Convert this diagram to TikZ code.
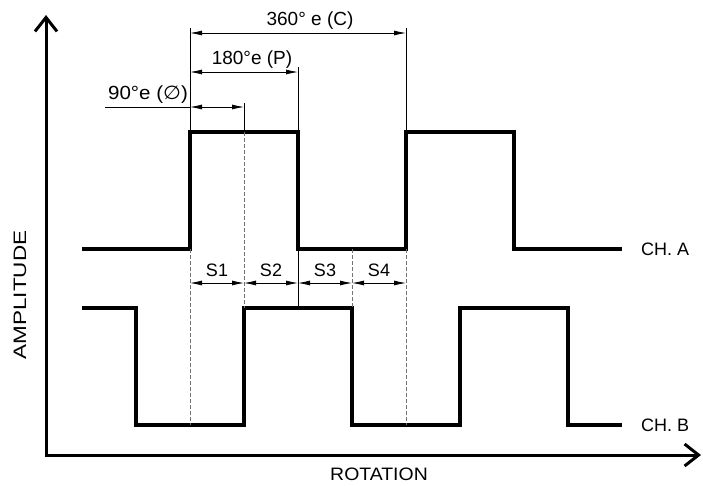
\documentclass[tikz,border=0pt]{standalone}
\usepackage{fontspec}
\setmainfont{Liberation Sans}
\newfontfamily\symfont{DejaVu Sans}
\usetikzlibrary{arrows.meta}
\begin{document}
\begin{tikzpicture}[x=1pt,y=-1pt,
  wave/.style={line width=4pt, line join=miter},
  axisline/.style={line width=3pt, line join=miter,
    {Straight Barb[length=14pt,width=22pt,line width=3pt]}-{Straight Barb[length=14pt,width=22pt,line width=3pt]}},
  dimline/.style={line width=0.8pt, {Latex[length=12pt,width=5pt]}-{Latex[length=12pt,width=5pt]}},
  extline/.style={line width=0.6pt},
  hidline/.style={line width=0.6pt, black!55, dash pattern=on 4pt off 2pt},
  lab/.style={font=\fontsize{19}{22}\selectfont, inner sep=0pt},
  slab/.style={font=\fontsize{18}{21}\selectfont, inner sep=0pt}]
\useasboundingbox (0,0) rectangle (703,485);
% axes
\coordinate (ytop) at (46,15);
\coordinate (orig) at (46,455);
\coordinate (xend) at (701,455);
\draw[axisline] (ytop) -- (orig) -- (xend);
% channel A
\draw[wave] (82,249) -- (190,249) -- (190,132) -- (298,132) -- (298,249) -- (406,249)
  -- (406,132) -- (514,132) -- (514,249) -- (622,249);
% channel B
\draw[wave] (82,308) -- (136,308) -- (136,425) -- (244,425) -- (244,308) -- (352,308)
  -- (352,425) -- (460,425) -- (460,308) -- (568,308) -- (568,425) -- (622,425);
% extension lines
\coordinate (e0t) at (190,28);  \coordinate (e0h) at (190,132);
\coordinate (e1t) at (244,103); \coordinate (e1h) at (244,132);
\coordinate (e2t) at (298,67);  \coordinate (e2h) at (298,132);
\coordinate (e4t) at (406,28);  \coordinate (e4h) at (406,132);
\draw[extline] (e0t) -- (e0h);
\draw[extline] (e1t) -- (e1h);
\draw[extline] (e2t) -- (e2h);
\draw[extline] (e4t) -- (e4h);
\draw[hidline] (190,249) -- (190,425);
\draw[hidline] (244,132) -- (244,308);
\draw[extline] (298,249) -- (298,308);
\draw[hidline] (352,249) -- (352,308);
\draw[hidline] (406,249) -- (406,425);
% dimensions
\coordinate (c0) at (190,33);  \coordinate (c1) at (406,33);
\coordinate (p0) at (190,72);  \coordinate (p1) at (298,72);
\coordinate (f0) at (190,107); \coordinate (f1) at (244,107); \coordinate (fl) at (105,107);
\draw[dimline] (c0) -- (c1);
\draw[dimline] (p0) -- (p1);
\draw[dimline] (f0) -- (f1);
\draw[extline] (fl) -- (f0);
\node[lab] (tC) at (310,21) {360° e (C)};
\node[lab] (tP) at (252,60) {180°e (P)};
\node[lab] (tF) at (148,95) {\scalebox{1.08}[1]{90°e ({\symfont ∅})}};
% S segments
\coordinate (s0) at (190,283); \coordinate (s1) at (244,283); \coordinate (s2) at (298,283);
\coordinate (s3) at (352,283); \coordinate (s4) at (406,283);
\draw[dimline] (s0) -- (s1);
\draw[dimline] (s1) -- (s2);
\draw[dimline] (s2) -- (s3);
\draw[dimline] (s3) -- (s4);
\node[slab] (S1) at (217,270) {S1};
\node[slab] (S2) at (271,270) {S2};
\node[slab] (S3) at (325,270) {S3};
\node[slab] (S4) at (379,270) {S4};
% labels
\node[slab, anchor=west] (cha) at (641,249) {CH. A};
\node[slab, anchor=west] (chb) at (641,425) {CH. B};
\node[slab, rotate=90] (amp) at (20,295) {\scalebox{1.25}[1]{AMPLITUDE}};
\node[slab] (rot) at (379,474) {\scalebox{1.08}[1]{ROTATION}};
\end{tikzpicture}
\end{document}
